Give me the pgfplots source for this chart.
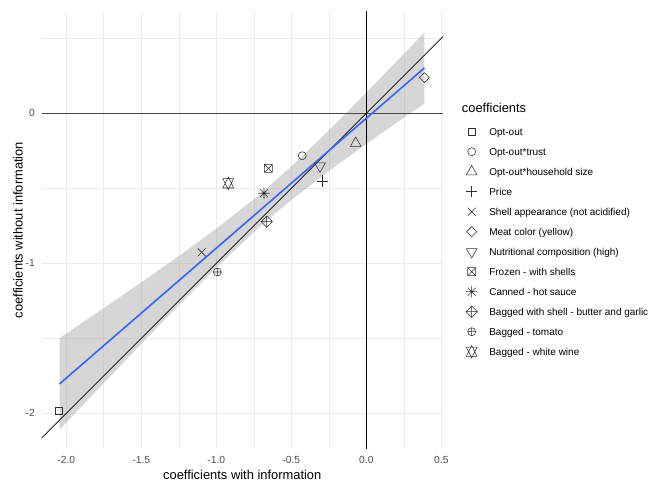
\documentclass[border=0pt]{standalone}
\usepackage{pgfplots}
\pgfplotsset{compat=1.18}
\usepackage{fontspec}
\setmainfont{Liberation Sans}
\definecolor{smoothc}{HTML}{3366FF}
\definecolor{gridc}{HTML}{EBEBEB}
\definecolor{bandc}{HTML}{999999}
\definecolor{tickc}{HTML}{4D4D4D}
\definecolor{ptc}{HTML}{303030}

\pgfdeclareplotmark{gsquare}{%
 \pgfpathrectangle{\pgfqpoint{-0.886\pgfplotmarksize}{-0.886\pgfplotmarksize}}{\pgfqpoint{1.772\pgfplotmarksize}{1.772\pgfplotmarksize}}\pgfusepathqstroke}
\pgfdeclareplotmark{gcircle}{\pgfpathcircle{\pgfpointorigin}{\pgfplotmarksize}\pgfusepathqstroke}
\pgfdeclareplotmark{gtriup}{%
 \pgfpathmoveto{\pgfqpoint{0pt}{1.555\pgfplotmarksize}}%
 \pgfpathlineto{\pgfqpoint{1.347\pgfplotmarksize}{-0.778\pgfplotmarksize}}%
 \pgfpathlineto{\pgfqpoint{-1.347\pgfplotmarksize}{-0.778\pgfplotmarksize}}%
 \pgfpathclose\pgfusepathqstroke}
\pgfdeclareplotmark{gtridown}{%
 \pgfpathmoveto{\pgfqpoint{0pt}{-1.555\pgfplotmarksize}}%
 \pgfpathlineto{\pgfqpoint{1.347\pgfplotmarksize}{0.778\pgfplotmarksize}}%
 \pgfpathlineto{\pgfqpoint{-1.347\pgfplotmarksize}{0.778\pgfplotmarksize}}%
 \pgfpathclose\pgfusepathqstroke}
\pgfdeclareplotmark{gplus}{%
 \pgfpathmoveto{\pgfqpoint{-1.414\pgfplotmarksize}{0pt}}\pgfpathlineto{\pgfqpoint{1.414\pgfplotmarksize}{0pt}}%
 \pgfpathmoveto{\pgfqpoint{0pt}{-1.414\pgfplotmarksize}}\pgfpathlineto{\pgfqpoint{0pt}{1.414\pgfplotmarksize}}%
 \pgfusepathqstroke}
\pgfdeclareplotmark{gcross}{%
 \pgfpathmoveto{\pgfqpoint{-\pgfplotmarksize}{-\pgfplotmarksize}}\pgfpathlineto{\pgfqpoint{\pgfplotmarksize}{\pgfplotmarksize}}%
 \pgfpathmoveto{\pgfqpoint{-\pgfplotmarksize}{\pgfplotmarksize}}\pgfpathlineto{\pgfqpoint{\pgfplotmarksize}{-\pgfplotmarksize}}%
 \pgfusepathqstroke}
\pgfdeclareplotmark{gdiamond}{%
 \pgfpathmoveto{\pgfqpoint{0pt}{1.253\pgfplotmarksize}}%
 \pgfpathlineto{\pgfqpoint{1.253\pgfplotmarksize}{0pt}}%
 \pgfpathlineto{\pgfqpoint{0pt}{-1.253\pgfplotmarksize}}%
 \pgfpathlineto{\pgfqpoint{-1.253\pgfplotmarksize}{0pt}}%
 \pgfpathclose\pgfusepathqstroke}
\pgfdeclareplotmark{gboxx}{%
 \pgfpathrectangle{\pgfqpoint{-\pgfplotmarksize}{-\pgfplotmarksize}}{\pgfqpoint{2\pgfplotmarksize}{2\pgfplotmarksize}}%
 \pgfpathmoveto{\pgfqpoint{-\pgfplotmarksize}{-\pgfplotmarksize}}\pgfpathlineto{\pgfqpoint{\pgfplotmarksize}{\pgfplotmarksize}}%
 \pgfpathmoveto{\pgfqpoint{-\pgfplotmarksize}{\pgfplotmarksize}}\pgfpathlineto{\pgfqpoint{\pgfplotmarksize}{-\pgfplotmarksize}}%
 \pgfusepathqstroke}
\pgfdeclareplotmark{gstar}{%
 \pgfpathmoveto{\pgfqpoint{-\pgfplotmarksize}{-\pgfplotmarksize}}\pgfpathlineto{\pgfqpoint{\pgfplotmarksize}{\pgfplotmarksize}}%
 \pgfpathmoveto{\pgfqpoint{-\pgfplotmarksize}{\pgfplotmarksize}}\pgfpathlineto{\pgfqpoint{\pgfplotmarksize}{-\pgfplotmarksize}}%
 \pgfpathmoveto{\pgfqpoint{-1.414\pgfplotmarksize}{0pt}}\pgfpathlineto{\pgfqpoint{1.414\pgfplotmarksize}{0pt}}%
 \pgfpathmoveto{\pgfqpoint{0pt}{-1.414\pgfplotmarksize}}\pgfpathlineto{\pgfqpoint{0pt}{1.414\pgfplotmarksize}}%
 \pgfusepathqstroke}
\pgfdeclareplotmark{gdiaplus}{%
 \pgfpathmoveto{\pgfqpoint{0pt}{1.414\pgfplotmarksize}}%
 \pgfpathlineto{\pgfqpoint{1.414\pgfplotmarksize}{0pt}}%
 \pgfpathlineto{\pgfqpoint{0pt}{-1.414\pgfplotmarksize}}%
 \pgfpathlineto{\pgfqpoint{-1.414\pgfplotmarksize}{0pt}}%
 \pgfpathclose
 \pgfpathmoveto{\pgfqpoint{-1.414\pgfplotmarksize}{0pt}}\pgfpathlineto{\pgfqpoint{1.414\pgfplotmarksize}{0pt}}%
 \pgfpathmoveto{\pgfqpoint{0pt}{-1.414\pgfplotmarksize}}\pgfpathlineto{\pgfqpoint{0pt}{1.414\pgfplotmarksize}}%
 \pgfusepathqstroke}
\pgfdeclareplotmark{goplus}{%
 \pgfpathcircle{\pgfpointorigin}{\pgfplotmarksize}%
 \pgfpathmoveto{\pgfqpoint{-\pgfplotmarksize}{0pt}}\pgfpathlineto{\pgfqpoint{\pgfplotmarksize}{0pt}}%
 \pgfpathmoveto{\pgfqpoint{0pt}{-\pgfplotmarksize}}\pgfpathlineto{\pgfqpoint{0pt}{\pgfplotmarksize}}%
 \pgfusepathqstroke}
\pgfdeclareplotmark{ghex}{%
 \pgfpathmoveto{\pgfqpoint{0pt}{1.555\pgfplotmarksize}}%
 \pgfpathlineto{\pgfqpoint{1.347\pgfplotmarksize}{-1.1665\pgfplotmarksize}}%
 \pgfpathlineto{\pgfqpoint{-1.347\pgfplotmarksize}{-1.1665\pgfplotmarksize}}%
 \pgfpathclose
 \pgfpathmoveto{\pgfqpoint{0pt}{-1.555\pgfplotmarksize}}%
 \pgfpathlineto{\pgfqpoint{1.347\pgfplotmarksize}{1.1665\pgfplotmarksize}}%
 \pgfpathlineto{\pgfqpoint{-1.347\pgfplotmarksize}{1.1665\pgfplotmarksize}}%
 \pgfpathclose
 \pgfusepathqstroke}

\begin{document}
\begin{tikzpicture}
\begin{axis}[
  at={(0,0)}, anchor=south west,
  scale only axis, width=401.5bp, height=436bp,
  xmin=-2.165, xmax=0.511, ymin=-2.231, ymax=0.675,
  axis line style={draw=none}, tick style={draw=none},
  major tick length=0pt, minor tick length=0pt,
  xtick={-2,-1.5,-1,-0.5,0,0.5},
  xticklabels={-2.0,-1.5,-1.0,-0.5,0.0,0.5},
  ytick={-2,-1,0},
  yticklabels={-2,-1,0},
  minor xtick={-1.75,-1.25,-0.75,-0.25,0.25},
  minor ytick={-1.5,-0.5,0.5},
  xmajorgrids, ymajorgrids, xminorgrids, yminorgrids,
  major grid style={draw=gridc, line width=1bp},
  minor grid style={draw=gridc, line width=0.55bp},
  ticklabel style={font=\fontsize{10.3bp}{12bp}\selectfont, text=tickc, inner sep=0pt},
  xticklabel style={anchor=center, yshift=-12bp},
  yticklabel style={anchor=east, xshift=-6.5bp},
  xlabel={coefficients with information},
  ylabel={coefficients without information},
  label style={font=\fontsize{12.9bp}{15bp}\selectfont, inner sep=0pt},
  xlabel style={at={(axis description cs:0.5,0)}, anchor=center, yshift=-27bp},
  ylabel style={at={(axis description cs:0,0.5)}, anchor=center, yshift=23.5bp},
  mark size=4bp,
  legend style={at={(axis description cs:1.0565,0.7415)}, anchor=north west,
    draw=none, fill=none, inner sep=0pt, outer sep=0pt,
    font=\fontsize{10bp}{12bp}\selectfont, row sep=6bp,
    cells={anchor=west},
    nodes={inner sep=0pt, text height=7.2bp, text depth=0pt},
    /tikz/every odd column/.append style={column sep=11.6bp}},
  legend image code/.code={\path[draw=none, fill=none] (-6bp,-7bp) rectangle (6bp,7bp); \draw[#1] plot coordinates {(0bp,0bp)};},
]
% confidence band
\addplot[forget plot, draw=none, fill=bandc, fill opacity=0.4] coordinates {
 (-2.045,-1.499) (-1.75,-1.299) (-1.5,-1.127) (-1.25,-0.952) (-1.0,-0.769) (-0.75,-0.573) (-0.65,-0.488)
 (-0.5,-0.354) (-0.25,-0.114) (0,0.138) (0.2,0.344) (0.387,0.539)
 (0.387,0.065) (0.2,-0.064) (0,-0.204) (-0.25,-0.385) (-0.5,-0.578) (-0.65,-0.704) (-0.75,-0.793)
 (-1.0,-1.029) (-1.25,-1.279) (-1.5,-1.537) (-1.75,-1.799) (-2.045,-2.109)};
% reference lines
\addplot[forget plot, draw=black!72, line width=0.9bp] coordinates {(-2.2,0) (0.6,0)};
\addplot[forget plot, draw=black, line width=0.7bp] coordinates {(0,-2.3) (0,0.7)};
\addplot[forget plot, draw=black, line width=0.7bp] coordinates {(-2.3,-2.3) (0.7,0.7)};
% fitted line
\addplot[forget plot, draw=smoothc, line width=1.6bp] coordinates {(-2.045,-1.804) (0.387,0.302)};
% points
\addplot[only marks, mark=gsquare, draw=ptc, line width=0.55bp] coordinates {(-2.047,-1.985)};
\addlegendentry{Opt-out}
\addplot[only marks, mark=gcircle, draw=ptc, line width=0.55bp] coordinates {(-0.427,-0.283)};
\addlegendentry{Opt-out*trust}
\addplot[only marks, mark=gtriup, draw=ptc, line width=0.55bp] coordinates {(-0.071,-0.200)};
\addlegendentry{Opt-out*household size}
\addplot[only marks, mark=gplus, draw=ptc, line width=0.55bp] coordinates {(-0.293,-0.451)};
\addlegendentry{Price}
\addplot[only marks, mark=gcross, draw=ptc, line width=0.55bp] coordinates {(-1.097,-0.927)};
\addlegendentry{Shell appearance (not acidified)}
\addplot[only marks, mark=gdiamond, draw=ptc, line width=0.55bp] coordinates {(0.387,0.237)};
\addlegendentry{Meat color (yellow)}
\addplot[only marks, mark=gtridown, draw=ptc, line width=0.55bp] coordinates {(-0.309,-0.352)};
\addlegendentry{Nutritional composition (high)}
\addplot[only marks, mark=gboxx, draw=ptc, line width=0.55bp] coordinates {(-0.653,-0.367)};
\addlegendentry{Frozen - with shells}
\addplot[only marks, mark=gstar, draw=ptc, line width=0.55bp] coordinates {(-0.682,-0.533)};
\addlegendentry{Canned - hot sauce}
\addplot[only marks, mark=gdiaplus, draw=ptc, line width=0.55bp] coordinates {(-0.664,-0.722)};
\addlegendentry{Bagged with shell - butter and garlic}
\addplot[only marks, mark=goplus, draw=ptc, line width=0.55bp] coordinates {(-0.993,-1.058)};
\addlegendentry{Bagged - tomato}
\addplot[only marks, mark=ghex, draw=ptc, line width=0.55bp] coordinates {(-0.920,-0.467)};
\addlegendentry{Bagged - white wine}
\end{axis}
\node[anchor=west, inner sep=0pt, font=\fontsize{12.9bp}{15bp}\selectfont] at (420.2bp,340bp) {coefficients};
\pgfresetboundingbox
\path[use as bounding box] (-41.5bp,-33bp) rectangle (609.5bp,448bp);
\end{tikzpicture}
\end{document}
